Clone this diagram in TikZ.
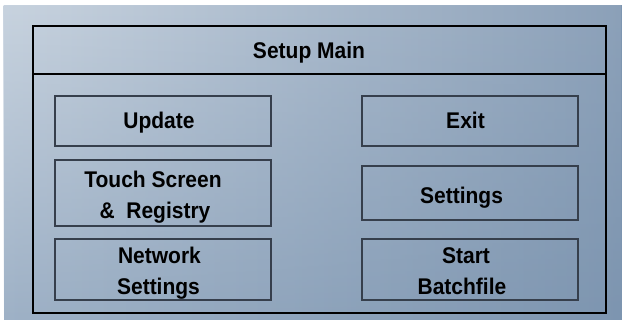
\documentclass[tikz,border=0pt]{standalone}
\usepackage{fontspec}
\setmainfont{Liberation Sans}
\usetikzlibrary{fadings}
\newcommand{\capt}[1]{\scalebox{1}[1.08]{#1}}
\begin{document}
\begin{tikzpicture}[x=1pt,y=-1pt,
  framebox/.style={draw=black,line width=1.4pt},
  btn/.style={draw=btnline,line width=1.2pt,rectangle,inner sep=0pt},
  lbl/.style={anchor=base,inner sep=0pt,font=\fontsize{21}{25}\selectfont\bfseries,text=black}]
\definecolor{btnline}{HTML}{363F4C}
\definecolor{bgTL}{RGB}{200,211,223}
\definecolor{bgTR}{RGB}{140,161,185}
\definecolor{bgBL}{RGB}{158,177,198}
\definecolor{bgBR}{RGB}{125,149,176}
\useasboundingbox (0,0) rectangle (622,320);
% backdrop: lower colours, with the upper colours faded in from the top
\shade[left color=bgBL,right color=bgBR] (4,6) rectangle (622,320);
\shade[left color=bgTL,right color=bgTR,path fading=south] (4,6) rectangle (622,320);
% outer frame with title bar
\node[framebox,rectangle,inner sep=0pt,minimum width=573pt,minimum height=287pt] (main) at (319.5,169.5) {};
\coordinate (divl) at (33,74);
\coordinate (divr) at (606,74);
\draw[black,line width=1.4pt] (divl) -- (divr);
\node[lbl] (title) at (309,59) {\capt{Setup Main}};
% buttons, left column
\node[btn,minimum width=216pt,minimum height=50pt] (update) at (163,121) {};
\node[btn,minimum width=216pt,minimum height=66pt] (touch) at (163,193) {};
\node[btn,minimum width=216pt,minimum height=61pt] (network) at (163,269.5) {};
% buttons, right column
\node[btn,minimum width=216pt,minimum height=50pt] (exit) at (470,121) {};
\node[btn,minimum width=216pt,minimum height=54pt] (settings) at (470,193) {};
\node[btn,minimum width=216pt,minimum height=61pt] (batch) at (470,269.5) {};
% captions
\node[lbl] at (159,129) {\capt{Update}};
\node[lbl] at (153,187.5) {\capt{Touch Screen}};
\node[lbl] at (155,218.5) {\capt{\&\ \ Registry}};
\node[lbl] at (159.5,263.5) {\capt{Network}};
\node[lbl] at (158.5,295) {\capt{Settings}};
\node[lbl] at (465.5,129) {\capt{Exit}};
\node[lbl] at (461.5,203.5) {\capt{Settings}};
\node[lbl] at (466,263.5) {\capt{Start}};
\node[lbl] at (462,294.5) {\capt{Batchfile}};
\end{tikzpicture}
\end{document}
